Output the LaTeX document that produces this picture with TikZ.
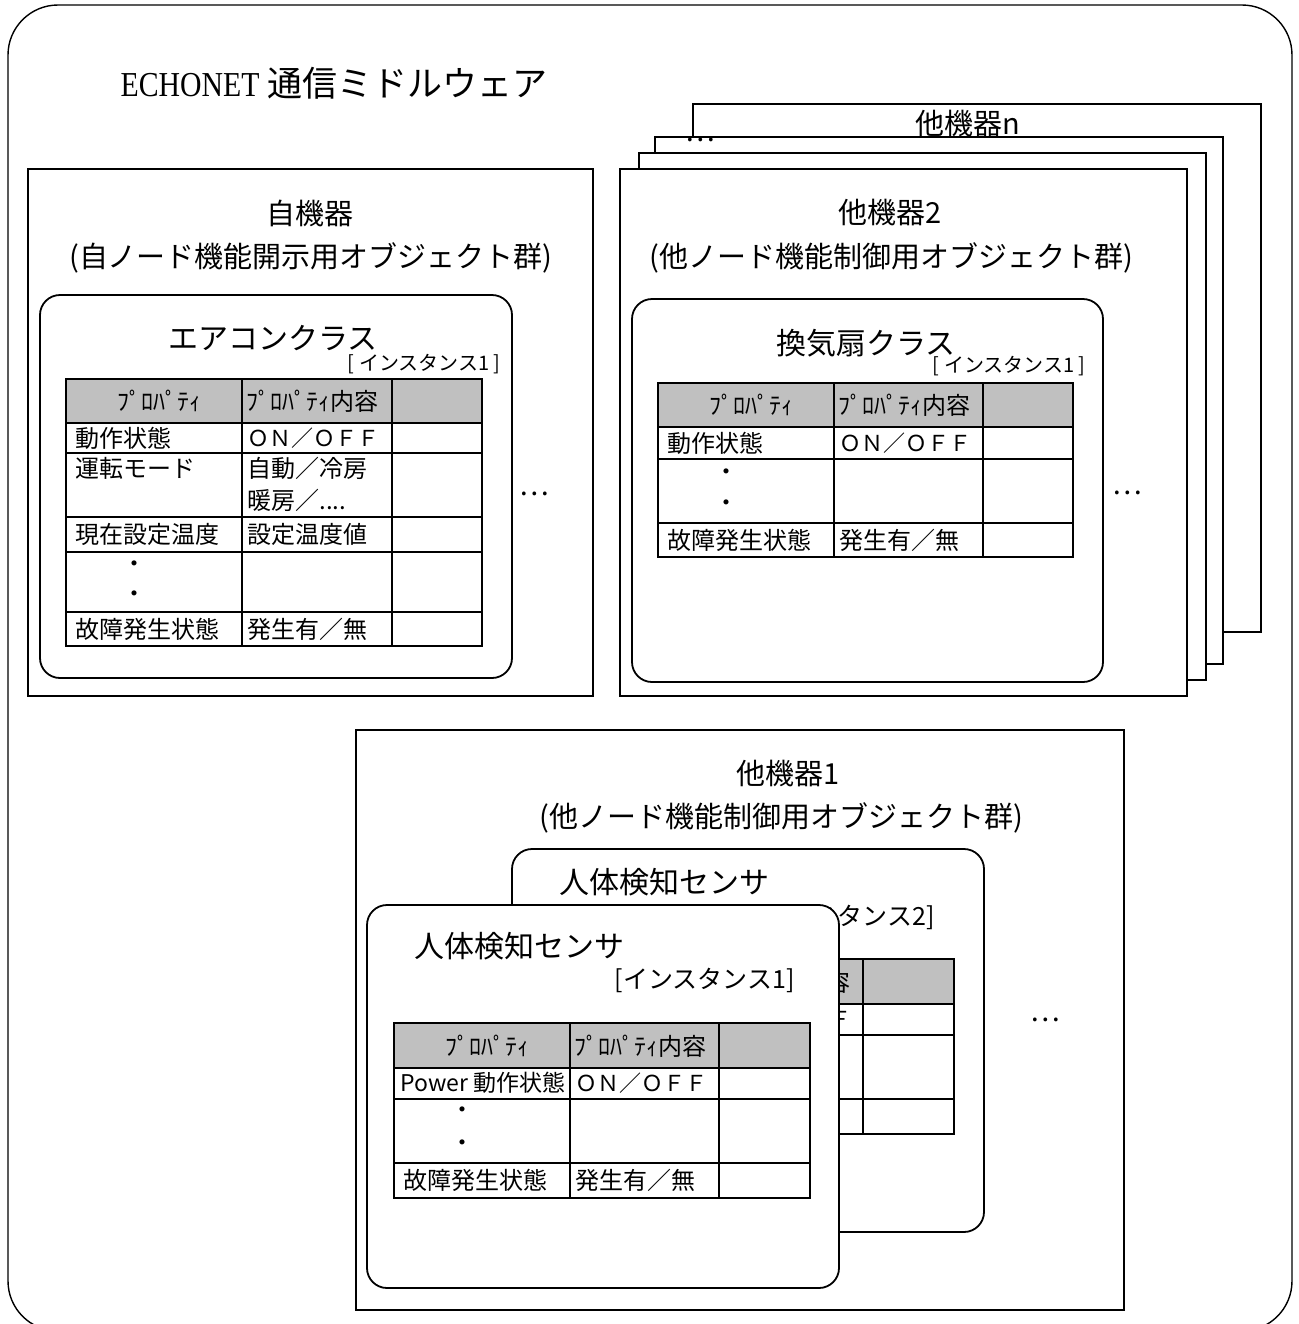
\documentclass[tikz,border=0pt]{standalone}
\usepackage{fontspec}
\setmainfont{Noto Sans CJK JP}
\newfontfamily\titlelatin[FakeStretch=0.85]{Liberation Serif}
\usetikzlibrary{positioning}
\definecolor{hdrgray}{RGB}{192, 192, 192}

\tikzset{
  framebox/.style={draw, fill=white, line width=0.9pt},
  clsbox/.style={draw, fill=white, line width=0.9pt, rounded corners=10pt},
  tblline/.style={draw, line width=0.8pt},
  devtxt/.style={inner sep=0pt, font=\fontsize{14.5}{17}\selectfont},
  clstxt/.style={inner sep=0pt, font=\fontsize{15}{18}\selectfont},
  insttxt/.style={inner sep=0pt, anchor=east, font=\fontsize{10}{12}\selectfont},
  hdrtxt/.style={inner sep=0pt, font=\fontsize{12}{14}\selectfont},
  celltxt/.style={inner sep=0pt, anchor=west, font=\fontsize{12}{14}\selectfont},
  moretxt/.style={inner sep=0pt, font=\fontsize{14}{16}\selectfont}
}

\begin{document}
\begin{tikzpicture}[x=0.5pt, y=-0.5pt]
  \useasboundingbox (0,0) rectangle (1298,1324);

  % Middleware frame (runs past the lower edge)
  \draw[line width=0.7pt, rounded corners=25pt] (8,5) rectangle (1292,1331);
  \node[inner sep=0pt, font=\fontsize{17.5}{20}\selectfont] (mw) at (334,83) {{\titlelatin ECHONET} 通信ミドルウェア};

  % Own device
  \draw[framebox] (28,169) rectangle (593,696);
  \node[devtxt] (own) at (310,213) {自機器};
  \node[devtxt] (ownsub) at (311,258) {(自ノード機能開示用オブジェクト群)};
  \draw[clsbox] (40,295) rectangle (512,678);
  \node[clstxt] (aircon) at (273,338) {エアコンクラス};
  \node[insttxt] (airinst) at (501,364) {[ インスタンス1 ]};
  \begin{scope}[shift={(66,379)}]
    \fill[hdrgray] (0,0) rectangle (416,44);
    \draw[tblline] (0,0) rectangle (416,267);
    \foreach \yy in {44,74,138,173,233} \draw[tblline] (0,\yy) -- (416,\yy);
    \foreach \xx in {176,326} \draw[tblline] (\xx,0) -- (\xx,267);
    \node[hdrtxt] (a-h1) at (93,22) {ﾌﾟﾛﾊﾟﾃｨ};
    \node[celltxt] (a-h2) at (180,22) {ﾌﾟﾛﾊﾟﾃｨ内容};
    \node[celltxt] (a-r1) at (9,59) {動作状態};
    \node[celltxt, font=\fontsize{11}{14}\selectfont] (a-v1) at (181,59) {ＯＮ／ＯＦＦ};
    \node[celltxt] (a-r2) at (9,89) {運転モード};
    \node[celltxt] (a-v2) at (181,89) {自動／冷房};
    \node[celltxt] (a-v2b) at (181,121) {暖房／....};
    \node[celltxt] (a-r3) at (9,155) {現在設定温度};
    \node[celltxt] (a-v3) at (181,155) {設定温度値};
    \node[hdrtxt] (a-d1) at (68,188) {・};
    \node[hdrtxt] (a-d2) at (68,218) {・};
    \node[celltxt] (a-r4) at (9,250) {故障発生状態};
    \node[celltxt] (a-v4) at (181,250) {発生有／無};
  \end{scope}
  \node[moretxt] (airmore) at (534,494) {…};

  % Other devices, stacked
  \draw[framebox] (693,104) rectangle (1261,632);
  \node[devtxt] (othn) at (968,124) {他機器n};
  \draw[framebox] (655,137) rectangle (1223,664);
  \node[moretxt] (othdots) at (700,140) {…};
  \draw[framebox] (639,153) rectangle (1206,680);
  \draw[framebox] (620,169) rectangle (1187,696);
  \node[devtxt] (oth2) at (890,213) {他機器2};
  \node[devtxt] (oth2sub) at (891,258) {(他ノード機能制御用オブジェクト群)};
  \draw[clsbox] (632,299) rectangle (1103,682);
  \node[clstxt] (fan) at (866,343) {換気扇クラス};
  \node[insttxt] (faninst) at (1086,366) {[ インスタンス1 ]};
  \begin{scope}[shift={(658,383)}]
    \fill[hdrgray] (0,0) rectangle (415,44);
    \draw[tblline] (0,0) rectangle (415,174);
    \foreach \yy in {44,76,140} \draw[tblline] (0,\yy) -- (415,\yy);
    \foreach \xx in {176,325} \draw[tblline] (\xx,0) -- (\xx,174);
    \node[hdrtxt] (f-h1) at (93,22) {ﾌﾟﾛﾊﾟﾃｨ};
    \node[celltxt] (f-h2) at (180,22) {ﾌﾟﾛﾊﾟﾃｨ内容};
    \node[celltxt] (f-r1) at (9,60) {動作状態};
    \node[celltxt, font=\fontsize{11}{14}\selectfont] (f-v1) at (181,60) {ＯＮ／ＯＦＦ};
    \node[hdrtxt] (f-d1) at (68,92) {・};
    \node[hdrtxt] (f-d2) at (68,123) {・};
    \node[celltxt] (f-r2) at (9,157) {故障発生状態};
    \node[celltxt] (f-v2) at (181,157) {発生有／無};
  \end{scope}
  \node[moretxt] (fanmore) at (1127,493) {…};

  % Other device 1
  \draw[framebox] (356,730) rectangle (1124,1310);
  \node[devtxt] (oth1) at (788,773) {他機器1};
  \node[devtxt] (oth1sub) at (781,818) {(他ノード機能制御用オブジェクト群)};

  % sensor, instance 2 (behind, mostly hidden)
  \draw[clsbox] (512,849) rectangle (984,1232);
  \node[clstxt] (sensb) at (664,882) {人体検知センサ};
  \node[insttxt, font=\fontsize{12.5}{15}\selectfont] (sensbinst) at (935,917) {[インスタンス2]};
  \begin{scope}[shift={(538,959)}]
    \fill[hdrgray] (0,0) rectangle (416,45);
    \draw[tblline] (0,0) rectangle (416,175);
    \foreach \yy in {45,76,140} \draw[tblline] (0,\yy) -- (416,\yy);
    \foreach \xx in {176,325} \draw[tblline] (\xx,0) -- (\xx,175);
    \node[celltxt] (b-h2) at (180,23) {ﾌﾟﾛﾊﾟﾃｨ内容};
    \node[celltxt, font=\fontsize{11}{14}\selectfont] (b-v1) at (181,60) {ＯＮ／ＯＦＦ};
  \end{scope}

  % sensor, instance 1 (front)
  \draw[clsbox] (367,905) rectangle (839,1288);
  \node[clstxt] (sensf) at (519,946) {人体検知センサ};
  \node[insttxt, font=\fontsize{12.5}{15}\selectfont] (sensfinst) at (795,980) {[インスタンス1]};
  \begin{scope}[shift={(394,1023)}]
    \fill[hdrgray] (0,0) rectangle (416,45);
    \draw[tblline] (0,0) rectangle (416,175);
    \foreach \yy in {45,76,140} \draw[tblline] (0,\yy) -- (416,\yy);
    \foreach \xx in {176,325} \draw[tblline] (\xx,0) -- (\xx,175);
    \node[hdrtxt] (s-h1) at (93,23) {ﾌﾟﾛﾊﾟﾃｨ};
    \node[celltxt] (s-h2) at (180,23) {ﾌﾟﾛﾊﾟﾃｨ内容};
    \node[celltxt, font=\fontsize{11.5}{14}\selectfont] (s-r1) at (6,60) {Power 動作状態};
    \node[celltxt, font=\fontsize{11}{14}\selectfont] (s-v1) at (181,60) {ＯＮ／ＯＦＦ};
    \node[hdrtxt] (s-d1) at (68,90) {・};
    \node[hdrtxt] (s-d2) at (68,123) {・};
    \node[celltxt] (s-r2) at (9,157) {故障発生状態};
    \node[celltxt] (s-v2) at (181,157) {発生有／無};
  \end{scope}
  \node[moretxt] (sensmore) at (1045,1020) {…};
\end{tikzpicture}
\end{document}
